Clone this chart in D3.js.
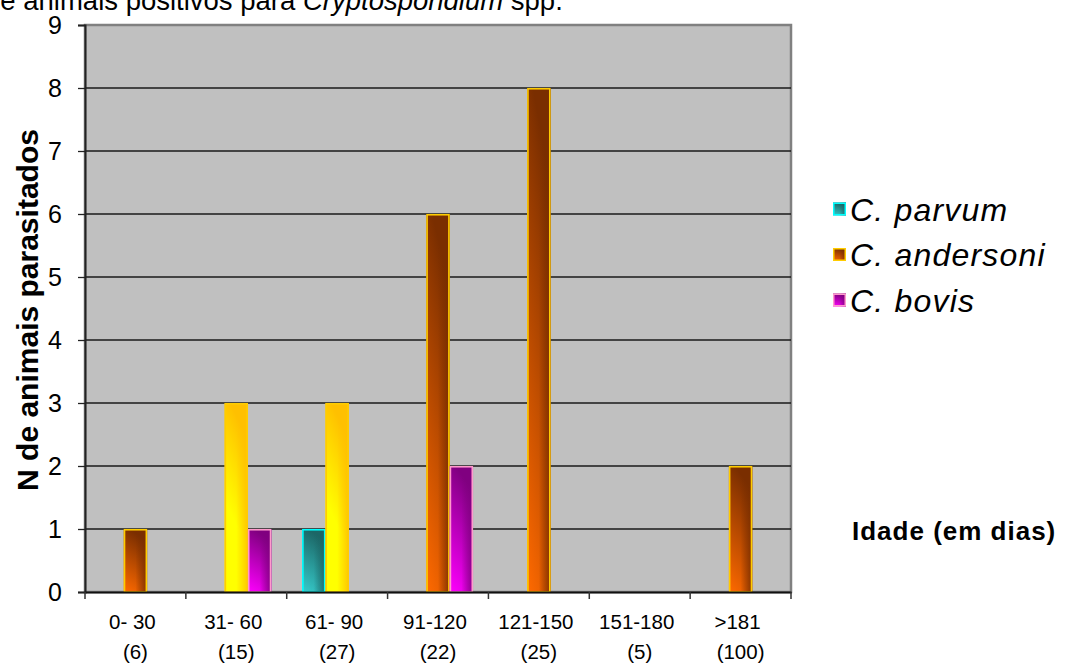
<!DOCTYPE html>
<html>
<head>
<meta charset="utf-8">
<script src="https://cdn.jsdelivr.net/npm/d3@7"></script>
<style>
  html, body { margin: 0; padding: 0; background: #ffffff; }
  svg { display: block; font-family: Arial, "Liberation Sans", sans-serif; }
</style>
</head>
<body>
<svg id="chart" width="1065" height="665"></svg>
<script>
// Age classes (days) and number of animals examined in each class
const categories = ["0- 30", "31- 60", "61- 90", "91-120", "121-150", "151-180", ">181"];
const sampleSizes = ["(6)", "(15)", "(27)", "(22)", "(25)", "(5)", "(100)"];

// Parasitised animals per species
const seriesNames = ["C. parvum", "C. andersoni", "C. bovis"];
const parvumValues = [0, 0, 1, 0, 0, 0, 0];
const andersoniValues = [1, 3, 3, 6, 8, 0, 2];
const bovisValues = [0, 1, 0, 2, 0, 0, 0];

const yTickValues = [0, 1, 2, 3, 4, 5, 6, 7, 8, 9];

const yTitle = "N de animais parasitados";
const xTitle = "Idade (em dias)";

// ---- styling ----
const seriesStyle = {
  "C. parvum":    { top: "#1c6666", bottom: "#36cccc", stroke: "#00ffff" },
  "C. andersoni": { top: "#7a2e00", bottom: "#ff6a00", stroke: "#ffcc00" },
  "C. bovis":     { top: "#800080", bottom: "#ff00ff", stroke: "#ff99cc" }
};
// andersoni points drawn with the yellow fill
const yellowPoints = new Set(["31- 60", "61- 90"]);
const yellowStyle = { top: "#ffc000", bottom: "#ffff00", stroke: "#ffcc00", mid: 0.45 };

const svg = d3.select("#chart");
const plot = { left: 85, right: 791, top: 25, bottom: 592 };

const x0 = d3.scaleBand().domain(categories).range([plot.left, plot.right]).padding(0);
const x1 = d3.scaleBand().domain(seriesNames).range([0, x0.bandwidth()])
  .paddingInner(0).paddingOuter(0.66);
const y = d3.scaleLinear().domain([0, 9]).range([plot.bottom, plot.top]);

// ---- gradients ----
const defs = svg.append("defs");
function addGradient(id, st) {
  const g = defs.append("linearGradient").attr("id", id)
    .attr("x1", 0).attr("y1", 1).attr("x2", 0.25).attr("y2", 0);
  if (st.mid !== undefined) {
    g.append("stop").attr("offset", 0).attr("stop-color", st.bottom);
    g.append("stop").attr("offset", st.mid).attr("stop-color", st.bottom);
    g.append("stop").attr("offset", 1).attr("stop-color", st.top);
  } else {
    g.append("stop").attr("offset", 0).attr("stop-color", st.bottom);
    g.append("stop").attr("offset", 1).attr("stop-color", st.top);
  }
  // side shade: right edge takes the darker colour
  const s = defs.append("linearGradient").attr("id", id + "-side")
    .attr("x1", 0).attr("y1", 0).attr("x2", 1).attr("y2", 0);
  s.append("stop").attr("offset", 0).attr("stop-color", st.top).attr("stop-opacity", 0);
  s.append("stop").attr("offset", 0.5).attr("stop-color", st.top).attr("stop-opacity", 0);
  s.append("stop").attr("offset", 1).attr("stop-color", st.top).attr("stop-opacity", 0.9);
}
seriesNames.forEach((n, i) => addGradient("g" + i, seriesStyle[n]));
addGradient("gy", yellowStyle);

// ---- plot area ----
svg.append("rect")
  .attr("x", plot.left).attr("y", plot.top)
  .attr("width", plot.right - plot.left).attr("height", plot.bottom - plot.top)
  .attr("fill", "#c0c0c0").attr("stroke", "#808080").attr("stroke-width", 2.5);

// horizontal gridlines
svg.append("g").selectAll("line")
  .data(yTickValues.filter(v => v > 0 && v < 9))
  .join("line")
  .attr("x1", plot.left).attr("x2", plot.right)
  .attr("y1", d => y(d)).attr("y2", d => y(d))
  .attr("stroke", "#1a1a1a").attr("stroke-width", 1.4);

// ---- bars ----
const seriesValues = [parvumValues, andersoniValues, bovisValues];
const barData = [];
categories.forEach((c, ci) => {
  seriesNames.forEach((s, si) => {
    const v = seriesValues[si][ci];
    if (v > 0) barData.push({ cat: c, series: s, si: si, value: v });
  });
});

const bars = svg.append("g").selectAll("g")
  .data(barData)
  .join("g")
  .attr("transform", d => `translate(${x0(d.cat) + x1(d.series)},0)`);

function gradId(d) {
  return (d.series === "C. andersoni" && yellowPoints.has(d.cat)) ? "gy" : "g" + d.si;
}
function strokeOf(d) {
  return (d.series === "C. andersoni" && yellowPoints.has(d.cat))
    ? yellowStyle.stroke : seriesStyle[d.series].stroke;
}

bars.append("rect")
  .attr("x", 0).attr("y", d => y(d.value))
  .attr("width", x1.bandwidth()).attr("height", d => y(0) - y(d.value))
  .attr("fill", d => `url(#${gradId(d)})`);
bars.append("rect")
  .attr("x", 0).attr("y", d => y(d.value))
  .attr("width", x1.bandwidth()).attr("height", d => y(0) - y(d.value))
  .attr("fill", d => `url(#${gradId(d)}-side)`);
bars.append("rect")
  .attr("x", 0.75).attr("y", d => y(d.value) + 0.75)
  .attr("width", x1.bandwidth() - 1.5).attr("height", d => y(0) - y(d.value) - 0.75)
  .attr("fill", "none")
  .attr("stroke", strokeOf).attr("stroke-width", 1.6);

// ---- axes ----
const yAxis = svg.append("g")
  .attr("transform", `translate(${plot.left},0)`)
  .call(d3.axisLeft(y).tickValues(yTickValues).tickSize(7).tickPadding(16).tickFormat(d3.format("d")));
yAxis.select(".domain").attr("stroke", "#222").attr("stroke-width", 2);
yAxis.selectAll(".tick line").attr("stroke", "#222").attr("stroke-width", 1.3);
yAxis.selectAll(".tick text")
  .attr("font-size", 25).attr("fill", "#000")
  .attr("font-family", "Arial, 'Liberation Sans', sans-serif");

const xAxis = svg.append("g")
  .attr("transform", `translate(0,${plot.bottom})`)
  .call(d3.axisBottom(x0).tickSize(0).tickFormat(""));
xAxis.select(".domain").attr("stroke", "#111").attr("stroke-width", 2);

// category boundary ticks
svg.append("g").selectAll("line")
  .data(categories.concat(["__end"]))
  .join("line")
  .attr("x1", (d, i) => i < categories.length ? x0(d) : plot.right)
  .attr("x2", (d, i) => i < categories.length ? x0(d) : plot.right)
  .attr("y1", plot.bottom).attr("y2", plot.bottom + 7)
  .attr("stroke", "#333").attr("stroke-width", 1.5);

// two-line category labels
const labels = svg.append("g")
  .attr("font-size", 20.5).attr("fill", "#000").attr("text-anchor", "middle");
labels.selectAll("text.cat")
  .data(categories)
  .join("text").attr("class", "cat")
  .attr("x", d => x0(d) + x0.bandwidth() / 2 - 3)
  .attr("y", 629)
  .text(d => d);
labels.selectAll("text.n")
  .data(sampleSizes)
  .join("text").attr("class", "n")
  .attr("x", (d, i) => x0(categories[i]) + x0.bandwidth() / 2)
  .attr("y", 659)
  .text(d => d);

// axis titles
svg.append("text")
  .attr("transform", `translate(38,310) rotate(-90)`)
  .attr("text-anchor", "middle")
  .attr("font-size", 30).attr("font-weight", "bold")
  .text(yTitle);

svg.append("text")
  .attr("x", 852).attr("y", 540)
  .attr("font-size", 26).attr("font-weight", "bold")
  .attr("letter-spacing", 1)
  .text(xTitle);

// partially visible caption above the chart
const cap = svg.append("text")
  .attr("x", -15).attr("y", 10)
  .attr("font-size", 27.5).attr("fill", "#000");
cap.append("tspan").text("de animais positivos para ");
cap.append("tspan").attr("font-style", "italic").text("Cryptosporidium");
cap.append("tspan").text(" spp.");

// ---- legend ----
const legend = svg.append("g");
const legendRows = legend.selectAll("g")
  .data(seriesNames)
  .join("g")
  .attr("transform", (d, i) => `translate(833,${209 + i * 45.5})`);
legendRows.append("rect")
  .attr("x", 0).attr("y", -6.5).attr("width", 13).attr("height", 13)
  .attr("fill", (d, i) => `url(#g${i})`);
legendRows.append("rect")
  .attr("x", 0).attr("y", -6.5).attr("width", 13).attr("height", 13)
  .attr("fill", (d, i) => `url(#g${i}-side)`);
legendRows.append("rect")
  .attr("x", 0.75).attr("y", -5.75).attr("width", 11.5).attr("height", 11.5)
  .attr("fill", "none")
  .attr("stroke", d => seriesStyle[d].stroke).attr("stroke-width", 1.5);
legendRows.append("text")
  .attr("x", 17).attr("y", 0).attr("dy", "0.36em")
  .attr("font-size", 32).attr("font-style", "italic")
  .attr("letter-spacing", 1.2)
  .text(d => d);
</script>
</body>
</html>
